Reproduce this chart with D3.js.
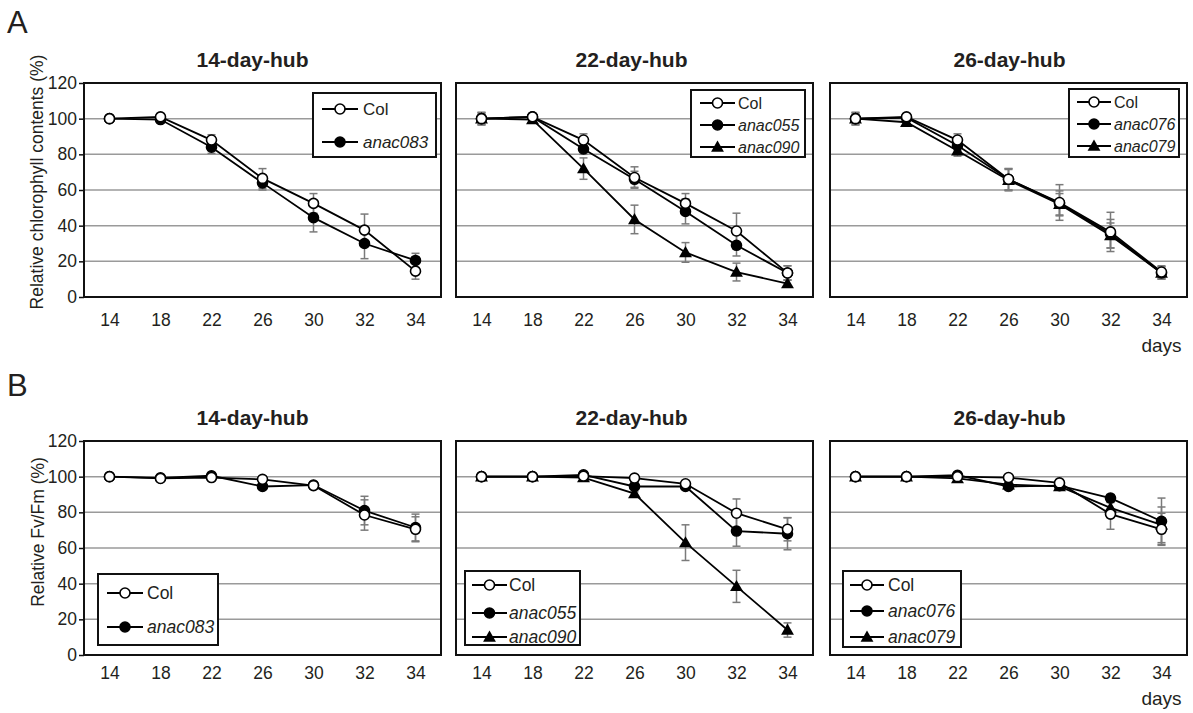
<!DOCTYPE html>
<html>
<head>
<meta charset="utf-8">
<script src="https://cdn.jsdelivr.net/npm/d3@7"></script>
<style>
  body { margin: 0; background: #fff; }
  svg { display: block; font-family: "Liberation Sans", Arial, sans-serif; }
</style>
</head>
<body>
<div id="chart"></div>
<script>
// ==================== data ====================
const days = ["14", "18", "22", "26", "30", "32", "34"];
const yTicks = [0, 20, 40, 60, 80, 100, 120];
const gridValues = [20, 40, 60, 80, 100];

// A: relative chlorophyll contents (%)
const chl14Col    = [100, 101, 88, 66.5, 52.5, 37.5, 14.5];
const chl14ColErr = [0.5, 1, 3, 5.5, 5.5, 9, 4.5];
const chl14A083    = [100, 99.5, 84, 64, 44.5, 30, 20.5];
const chl14A083Err = [0.5, 1.5, 3.5, 4, 8, 8.5, 4];

const chl22Col    = [100, 101, 88, 67, 52.5, 37, 13.5];
const chl22ColErr = [3.5, 1, 3.5, 6, 5.5, 10, 4];
const chl22A055    = [100, 101, 83, 66, 48, 29, 13.5];
const chl22A055Err = [3.5, 1, 3, 4.5, 7, 6, 4];
const chl22A090    = [100, 99.5, 72, 43.5, 25, 14, 7.5];
const chl22A090Err = [3, 1, 6, 8, 5.5, 5, 2];

const chl26Col    = [100, 101, 88, 66, 53, 36.5, 14];
const chl26ColErr = [3.5, 1.5, 3.5, 6, 10, 11, 3.5];
const chl26A076    = [100, 100.5, 85, 66, 52.5, 35.5, 13.5];
const chl26A076Err = [3.5, 2, 3, 6, 7, 8, 3.5];
const chl26A079    = [100, 98, 82, 65.5, 52, 34.5, 13.5];
const chl26A079Err = [3, 2, 3, 6, 6, 7, 3.5];

// B: relative Fv/Fm (%)
const fv14Col    = [100, 99, 99.5, 98.5, 95, 78.5, 70.5];
const fv14ColErr = [0.3, 0.5, 0.5, 0.8, 1, 8.5, 7];
const fv14A083    = [100, 99.3, 100.5, 94.5, 95.3, 81, 71.5];
const fv14A083Err = [0.3, 0.5, 0.5, 1, 1, 8, 7.5];

const fv22Col    = [100, 100, 100.3, 99.2, 96, 79.5, 70.5];
const fv22ColErr = [0.5, 0.5, 0.5, 0.8, 1, 8, 6.5];
const fv22A055    = [100, 100, 101, 94.5, 94.5, 69.5, 68];
const fv22A055Err = [0.5, 0.5, 0.5, 1, 1, 8.5, 9];
const fv22A090    = [100, 100, 99.5, 90.5, 63, 38.5, 14];
const fv22A090Err = [0.5, 0.5, 0.5, 1, 10, 9, 4];

const fv26Col    = [100, 100, 100, 99.5, 96.5, 79, 70.5];
const fv26ColErr = [0.3, 0.3, 0.5, 0.8, 1, 8.5, 9];
const fv26A076    = [100, 100, 100.8, 94.5, 95, 88, 75];
const fv26A076Err = [0.3, 0.3, 0.5, 1, 1, 2, 13];
const fv26A079    = [100, 100, 99, 95.5, 94.5, 82.5, 73];
const fv26A079Err = [0.3, 0.3, 0.5, 1, 1, 3, 10];

// ==================== layout ====================
const W = 1193, H = 713;
const colLeft = [84, 456, 830];
const rowTop = [83, 441];
const boxW = 357, boxH = 214;
const titleShift = [-10, -3, 1];
const tickLabelOffset = [23, 18];
const textColor = "#231f20";

const s = (name, values, err, shape) => ({name, values, err, shape});

const panels = [
  {row: 0, col: 0, title: "14-day-hub",
   series: [s("Col", chl14Col, chl14ColErr, "open"), s("anac083", chl14A083, chl14A083Err, "dot")],
   legend: {x: 313, y: 93, w: 123, h: 64, l0: 322, l1: 358, tx: 363, rows: [109, 142], fs: 17}},
  {row: 0, col: 1, title: "22-day-hub",
   series: [s("Col", chl22Col, chl22ColErr, "open"), s("anac055", chl22A055, chl22A055Err, "dot"),
            s("anac090", chl22A090, chl22A090Err, "tri")],
   legend: {x: 691, y: 90, w: 114, h: 67, l0: 700, l1: 735, tx: 738, rows: [103, 125, 147], fs: 16}},
  {row: 0, col: 2, title: "26-day-hub",
   series: [s("Col", chl26Col, chl26ColErr, "open"), s("anac076", chl26A076, chl26A076Err, "dot"),
            s("anac079", chl26A079, chl26A079Err, "tri")],
   legend: {x: 1069, y: 89, w: 110, h: 68, l0: 1077, l1: 1111, tx: 1114, rows: [102, 124, 146], fs: 16}},
  {row: 1, col: 0, title: "14-day-hub",
   series: [s("Col", fv14Col, fv14ColErr, "open"), s("anac083", fv14A083, fv14A083Err, "dot")],
   legend: {x: 98, y: 574, w: 120, h: 71, l0: 107, l1: 143, tx: 147, rows: [593, 627], fs: 17.5}},
  {row: 1, col: 1, title: "22-day-hub",
   series: [s("Col", fv22Col, fv22ColErr, "open"), s("anac055", fv22A055, fv22A055Err, "dot"),
            s("anac090", fv22A090, fv22A090Err, "tri")],
   legend: {x: 465, y: 571, w: 115, h: 74, l0: 472, l1: 507, tx: 509, rows: [585, 613, 637], fs: 17.5}},
  {row: 1, col: 2, title: "26-day-hub",
   series: [s("Col", fv26Col, fv26ColErr, "open"), s("anac076", fv26A076, fv26A076Err, "dot"),
            s("anac079", fv26A079, fv26A079Err, "tri")],
   legend: {x: 843, y: 571, w: 118, h: 76, l0: 850, l1: 884, tx: 888, rows: [585, 611, 637], fs: 17.5}}
];

const svg = d3.select("#chart").append("svg")
  .attr("width", W).attr("height", H);
svg.append("rect").attr("width", W).attr("height", H).attr("fill", "#fff");

// marker drawing
function drawMarker(g, shape, x, y) {
  if (shape === "tri") {
    g.append("path")
      .attr("d", d3.symbol(d3.symbolTriangle, 72)())
      .attr("transform", `translate(${x},${y + 1})`)
      .attr("fill", "#000");
  } else {
    g.append("circle")
      .attr("cx", x).attr("cy", y).attr("r", 5)
      .attr("fill", shape === "open" ? "#fff" : "#000")
      .attr("stroke", "#000").attr("stroke-width", 1.6);
  }
}

panels.forEach(p => {
  const x0 = colLeft[p.col], y0 = rowTop[p.row];
  const x = d3.scalePoint().domain(days).range([x0, x0 + boxW]).padding(0.5);
  const y = d3.scaleLinear().domain([0, 120]).range([y0 + boxH, y0]);
  const g = svg.append("g");

  // gridlines
  g.selectAll(".grid").data(gridValues).join("line")
    .attr("x1", x0).attr("x2", x0 + boxW)
    .attr("y1", d => y(d)).attr("y2", d => y(d))
    .attr("stroke", "#9a9a9a").attr("stroke-width", 1.5);

  // error bars
  p.series.forEach(se => {
    const eb = g.append("g").attr("stroke", "#7a7a7a").attr("stroke-width", 1.5);
    se.values.forEach((v, i) => {
      const cx = x(days[i]);
      const lo = y(v - se.err[i]), hi = y(v + se.err[i]);
      eb.append("line").attr("x1", cx).attr("x2", cx).attr("y1", lo).attr("y2", hi);
      eb.append("line").attr("x1", cx - 4).attr("x2", cx + 4).attr("y1", lo).attr("y2", lo);
      eb.append("line").attr("x1", cx - 4).attr("x2", cx + 4).attr("y1", hi).attr("y2", hi);
    });
  });

  // lines
  const line = d3.line().x((d, i) => x(days[i])).y(d => y(d));
  p.series.forEach(se => {
    g.append("path").datum(se.values)
      .attr("d", line)
      .attr("fill", "none").attr("stroke", "#000").attr("stroke-width", 1.8);
  });

  // markers (mutants first so the open Col circle stays visible)
  p.series.slice().reverse().forEach(se => {
    se.values.forEach((v, i) => drawMarker(g, se.shape, x(days[i]), y(v)));
  });

  // frame
  g.append("rect")
    .attr("x", x0).attr("y", y0).attr("width", boxW).attr("height", boxH)
    .attr("fill", "none").attr("stroke", "#111").attr("stroke-width", 2);

  // x axis labels
  const xa = g.append("g")
    .attr("transform", `translate(0,${y0 + boxH})`)
    .call(d3.axisBottom(x).tickSize(0));
  xa.select(".domain").remove();
  xa.selectAll("text")
    .attr("y", tickLabelOffset[p.row]).attr("dy", "0.35em")
    .attr("font-size", 17.5).attr("fill", textColor)
    .attr("font-family", "Liberation Sans, Arial, sans-serif");

  // y axis only on first column
  if (p.col === 0) {
    const ya = g.append("g")
      .attr("transform", `translate(${x0},0)`)
      .call(d3.axisLeft(y).tickValues(yTicks).tickSize(5).tickPadding(2));
    ya.select(".domain").remove();
    ya.selectAll("line").attr("stroke", "#111").attr("stroke-width", 1.5);
    ya.selectAll("text")
      .attr("font-size", 17.5).attr("fill", textColor)
      .attr("font-family", "Liberation Sans, Arial, sans-serif");
  }

  // title
  g.append("text")
    .attr("x", x0 + boxW / 2 + titleShift[p.col])
    .attr("y", y0 - 23)
    .attr("dy", "0.35em")
    .attr("text-anchor", "middle")
    .attr("font-size", 21).attr("font-weight", "bold").attr("fill", textColor)
    .text(p.title);

  // legend
  const L = p.legend;
  const lg = g.append("g");
  lg.append("rect")
    .attr("x", L.x).attr("y", L.y).attr("width", L.w).attr("height", L.h)
    .attr("fill", "#fff").attr("stroke", "#111").attr("stroke-width", 2);
  p.series.forEach((se, i) => {
    const ly = L.rows[i];
    lg.append("line")
      .attr("x1", L.l0).attr("x2", L.l1).attr("y1", ly).attr("y2", ly)
      .attr("stroke", "#000").attr("stroke-width", 1.8);
    drawMarker(lg, se.shape, (L.l0 + L.l1) / 2, ly);
    lg.append("text")
      .attr("x", L.tx).attr("y", ly).attr("dy", "0.35em")
      .attr("font-size", L.fs).attr("fill", textColor)
      .attr("font-style", se.name === "Col" ? "normal" : "italic")
      .text(se.name);
  });

  // "days" label on last column
  if (p.col === 2) {
    g.append("text")
      .attr("x", x(days[days.length - 1]))
      .attr("y", p.row === 0 ? 345 : 698)
      .attr("dy", "0.35em")
      .attr("text-anchor", "middle")
      .attr("font-size", 19).attr("fill", textColor)
      .text("days");
  }
});

// y axis titles
const yTitles = [
  {text: "Relative chlorophyll contents (%)", cx: 37, cy: 182},
  {text: "Relative Fv/Fm (%)", cx: 38, cy: 532}
];
yTitles.forEach(t => {
  svg.append("text")
    .attr("transform", `translate(${t.cx},${t.cy}) rotate(-90)`)
    .attr("dy", "0.35em")
    .attr("text-anchor", "middle")
    .attr("font-size", 17.5).attr("fill", textColor)
    .text(t.text);
});

// panel letters
[{t: "A", y: 22}, {t: "B", y: 385}].forEach(d => {
  svg.append("text")
    .attr("x", 7).attr("y", d.y).attr("dy", "0.35em")
    .attr("font-size", 31).attr("fill", textColor)
    .text(d.t);
});
</script>
</body>
</html>
